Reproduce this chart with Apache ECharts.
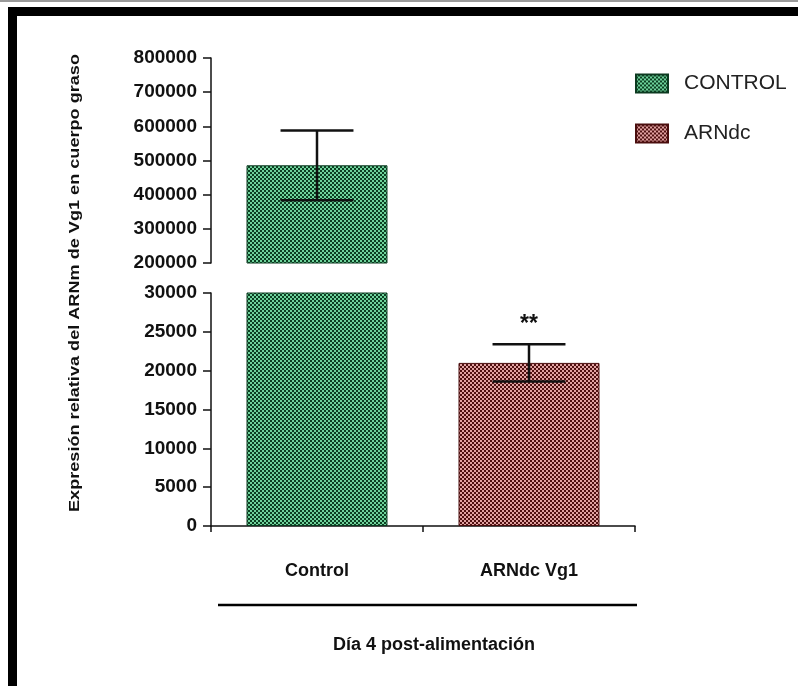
<!DOCTYPE html>
<html>
<head>
<meta charset="utf-8">
<script src="https://cdn.jsdelivr.net/npm/echarts@6/dist/echarts.min.js"></script>
<style>
  html, body { margin: 0; padding: 0; background: #fff; }
  #chart { width: 798px; height: 686px; }
</style>
</head>
<body>
<div id="chart"></div>
<script>
// Groups on the x axis and their legend names
const categories = ['Control', 'ARNdc Vg1'];
const seriesNames = ['CONTROL', 'ARNdc'];
// Mean relative expression and its error (SD)
const meanValues = [486000, 21000];
const errorValues = [102000, 2400];
const significance = ['', '**'];
// Broken y axis: upper and lower segments [min, max, step]
const upperScale = [200000, 800000, 100000];
const lowerScale = [0, 30000, 5000];

const yTitle = 'Expresión relativa del ARNm de Vg1 en cuerpo graso';
const xTitle = 'Día 4 post-alimentación';

const FONT = '"Liberation Sans", Arial, sans-serif';

function checker(light, dark) {
  const c = document.createElement('canvas');
  c.width = 4; c.height = 4;
  const g = c.getContext('2d');
  g.fillStyle = dark; g.fillRect(0, 0, 4, 4);
  g.fillStyle = light; g.fillRect(0, 0, 2, 2); g.fillRect(2, 2, 2, 2);
  return { image: c, repeat: 'repeat' };
}
const fills = [checker('#6fd39c', '#0c3f22'), checker('#e2a2a2', '#4f1010')];
const borders = ['#0c3a20', '#4a0e0e'];

// stretch factor for the long rotated axis title
const meas = document.createElement('canvas').getContext('2d');
meas.font = 'bold 14px ' + FONT;
const titleScale = 458 / meas.measureText(yTitle).width;

const chart = echarts.init(document.getElementById('chart'), null, { renderer: 'canvas' });

const grids = [
  { left: 211, width: 424, top: 58, height: 205 },
  { left: 211, width: 424, top: 293, height: 233 }
];

function yAxisFor(gi, scale) {
  return {
    gridIndex: gi, type: 'value', min: scale[0], max: scale[1], interval: scale[2],
    axisLine: { show: true, lineStyle: { color: '#111', width: 1.5 } },
    axisTick: { show: true, length: 8, lineStyle: { color: '#111', width: 1.5 } },
    axisLabel: { fontSize: 19, fontWeight: 'bold', color: '#111', fontFamily: FONT, margin: 14,
                 formatter: v => String(v) },
    splitLine: { show: false }
  };
}

const series = [];
[0, 1].forEach(gi => {
  seriesNames.forEach((name, s) => {
    series.push({
      type: 'bar', name, xAxisIndex: gi, yAxisIndex: gi,
      data: categories.map((_, i) => (i === s ? meanValues[i] : '-')),
      barWidth: '66.5%', barGap: '-100%', clip: true,
      itemStyle: { color: fills[s], borderColor: borders[s], borderWidth: 1 }
    });
  });
  series.push({
    type: 'custom', xAxisIndex: gi, yAxisIndex: gi, clip: true, z: 5,
    data: categories.map((_, i) => [i, meanValues[i], errorValues[i]]),
    renderItem(params, api) {
      const i = params.dataIndex;
      const x = api.value(0), m = api.value(1), e = api.value(2);
      const top = api.coord([x, m + e]);
      const bot = api.coord([x, m - e]);
      const hw = api.size([1, 0])[0] * 0.172;
      const st = { stroke: '#111', lineWidth: 2.5 };
      const kids = [
        { type: 'line', shape: { x1: top[0], y1: top[1], x2: bot[0], y2: bot[1] }, style: st },
        { type: 'line', shape: { x1: top[0] - hw, y1: top[1], x2: top[0] + hw, y2: top[1] }, style: st },
        { type: 'line', shape: { x1: bot[0] - hw, y1: bot[1], x2: bot[0] + hw, y2: bot[1] }, style: st }
      ];
      if (significance[i]) {
        kids.push({
          type: 'text',
          style: { text: significance[i], x: top[0], y: top[1] - 20, align: 'center', verticalAlign: 'middle',
                   font: 'bold 23px ' + FONT, fill: '#111' }
        });
      }
      return { type: 'group', children: kids };
    }
  });
});

chart.setOption({
  animation: false,
  backgroundColor: '#fff',
  grid: grids,
  legend: {
    data: seriesNames, orient: 'vertical', left: 635, top: 73, padding: 0,
    itemWidth: 32, itemHeight: 18, itemGap: 29, icon: 'rect', selectedMode: false,
    textStyle: { fontSize: 21, color: '#222', fontFamily: FONT, padding: [0, 0, 0, 11] }
  },
  xAxis: [
    { gridIndex: 0, type: 'category', data: categories, show: false },
    {
      gridIndex: 1, type: 'category', data: categories,
      axisLine: { show: true, lineStyle: { color: '#111', width: 1.5 } },
      axisTick: { show: true, length: 6, lineStyle: { color: '#111', width: 1.5 } },
      axisLabel: { fontSize: 18, fontWeight: 'bold', color: '#111', fontFamily: FONT, margin: 36 },
      name: xTitle, nameLocation: 'middle', nameGap: 110,
      nameTextStyle: { fontSize: 18, fontWeight: 'bold', color: '#111', fontFamily: FONT, padding: [0, 0, 0, 22] }
    }
  ],
  yAxis: [yAxisFor(0, upperScale), yAxisFor(1, lowerScale)],
  series,
  graphic: [
    { type: 'rect', shape: { x: 0, y: 0, width: 798, height: 2 }, style: { fill: '#9a9a9a' }, silent: true },
    { type: 'rect', shape: { x: 8, y: 7, width: 790, height: 9 }, style: { fill: '#000' }, silent: true },
    { type: 'rect', shape: { x: 8, y: 7, width: 9, height: 679 }, style: { fill: '#000' }, silent: true },
    { type: 'line', shape: { x1: 218, y1: 605, x2: 637, y2: 605 }, style: { stroke: '#000', lineWidth: 2.5 }, silent: true },
    {
      type: 'text', x: 75, y: 283, rotation: Math.PI / 2, scaleX: titleScale, silent: true,
      style: { text: yTitle, font: 'bold 14px ' + FONT, fill: '#111', align: 'center', verticalAlign: 'middle' }
    }
  ]
});
</script>
</body>
</html>
